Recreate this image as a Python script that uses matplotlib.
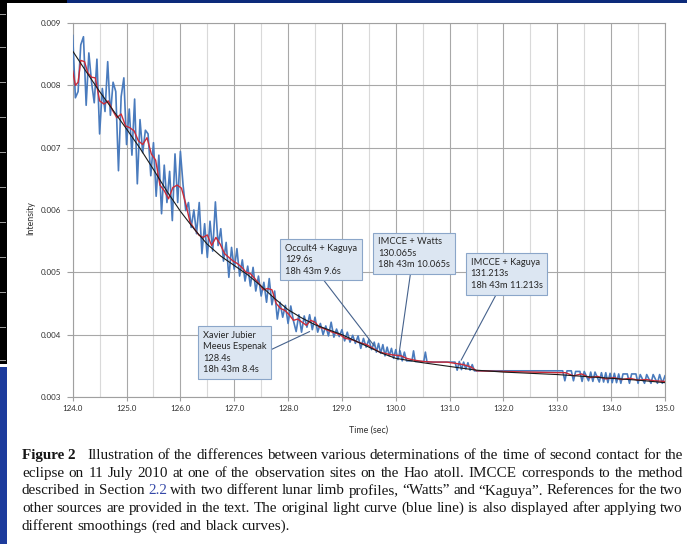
"""
Light curve around second contact (Hao atoll, 11 July 2010) with the
contact times given by the different methods, plus the figure caption.
"""

import matplotlib
matplotlib.use("Agg")
import matplotlib.pyplot as plt
import numpy as np
from matplotlib.patches import Rectangle

W, H = 687, 544

# Raw light curve, dense part: one sample every BLUE_STEP seconds from BLUE_START
BLUE_START = 124.0
BLUE_STEP = 0.05
blue_dense = [
    0.00880, 0.00780, 0.00790, 0.00865, 0.00878, 0.00768, 0.00852, 0.00805, 0.00772, 0.00842,
    0.00722, 0.00795, 0.00758, 0.00838, 0.00752, 0.00805, 0.00790, 0.00663, 0.00782, 0.00812,
    0.00705, 0.00762, 0.00688, 0.00778, 0.00642, 0.00745, 0.00692, 0.00728, 0.00722, 0.00655,
    0.00708, 0.00622, 0.00688, 0.00594, 0.00672, 0.00612, 0.00662, 0.00583, 0.00690, 0.00612,
    0.00694, 0.00640, 0.00599, 0.00612, 0.00572, 0.00600, 0.00562, 0.00612, 0.00530, 0.00578,
    0.00524, 0.00582, 0.00534, 0.00613, 0.00543, 0.00570, 0.00518, 0.00548, 0.00492, 0.00540,
    0.00505, 0.00538, 0.00494, 0.00520, 0.00486, 0.00510, 0.00478, 0.00508, 0.00470, 0.00494,
    0.00462, 0.00484, 0.00452, 0.00490, 0.00448, 0.00470, 0.00425, 0.00452, 0.00428, 0.00447,
    0.00418, 0.00446, 0.00422, 0.00405, 0.00432, 0.00404, 0.00430, 0.00412, 0.00432, 0.00408,
    0.00428, 0.00404, 0.00418, 0.00400, 0.00414, 0.00398, 0.00420, 0.00396, 0.00409, 0.00397,
    0.00408, 0.00390, 0.00404, 0.00388, 0.00399, 0.00386, 0.00398, 0.00378, 0.00394, 0.00380,
    0.00392, 0.00376, 0.00388,
]

# Raw light curve after 129.6 s (quantised, mostly flat)
blue_tail_t = [
    129.64, 129.68, 129.72, 129.76, 129.80, 129.84, 129.88, 129.92, 129.96, 130.00,
    130.04, 130.08, 130.12, 130.16, 130.20, 130.30, 130.33, 130.36, 130.52, 130.55,
    130.58, 131.10, 131.14, 131.18, 131.22, 131.26, 131.30, 131.34, 131.38, 131.42,
    131.46, 131.50, 133.10, 133.14, 133.18, 133.26, 133.30, 133.34, 133.42, 133.46,
    133.50, 133.58, 133.62, 133.66, 133.70, 133.78, 133.82, 133.86, 133.90, 133.94,
    133.98, 134.02, 134.06, 134.10, 134.14, 134.18, 134.22, 134.30, 134.34, 134.38,
    134.46, 134.50, 134.54, 134.62, 134.66, 134.74, 134.78, 134.86, 134.90, 134.95,
    135.00,
]
blue_tail_i = [
    0.00372, 0.00386, 0.00370, 0.00384, 0.00366, 0.00380, 0.00366, 0.00378, 0.00362, 0.00376,
    0.00360, 0.00374, 0.00358, 0.00372, 0.00358, 0.00358, 0.00374, 0.00357, 0.00357, 0.00372,
    0.00356, 0.00356, 0.00343, 0.00357, 0.00344, 0.00356, 0.00345, 0.00355, 0.00343, 0.00352,
    0.00342, 0.00342, 0.00342, 0.00326, 0.00342, 0.00342, 0.00326, 0.00341, 0.00341, 0.00325,
    0.00341, 0.00326, 0.00340, 0.00325, 0.00340, 0.00324, 0.00339, 0.00324, 0.00339, 0.00323,
    0.00338, 0.00323, 0.00338, 0.00323, 0.00337, 0.00322, 0.00337, 0.00337, 0.00322, 0.00337,
    0.00337, 0.00322, 0.00336, 0.00322, 0.00336, 0.00322, 0.00336, 0.00322, 0.00336, 0.00322,
    0.00334,
]

# First smoothing (red)
red_t = [
    124.00, 124.05, 124.10, 124.15, 124.22, 124.28, 124.35, 124.42, 124.50, 124.58,
    124.66, 124.74, 124.82, 124.90, 124.98, 125.06, 125.14, 125.22, 125.30, 125.38,
    125.46, 125.54, 125.62, 125.70, 125.78, 125.86, 125.94, 126.02, 126.10, 126.18,
    126.26, 126.34, 126.42, 126.50, 126.58, 126.66, 126.74, 126.82, 126.90, 126.98,
    127.06, 127.14, 127.22, 127.30, 127.38, 127.46, 127.54, 127.62, 127.70, 127.78,
    127.86, 127.94, 128.02, 128.10, 128.18, 128.26, 128.34, 128.42, 128.50, 128.58,
    128.66, 128.74, 128.82, 128.90, 128.98, 129.06, 129.14, 129.22, 129.30, 129.38,
    129.46, 129.54, 129.62, 129.70, 129.80, 129.90, 130.00, 130.10, 130.20, 130.35,
    130.50, 130.70, 130.95, 131.10, 131.25, 131.40, 131.50, 132.00, 132.50, 133.00,
    133.15, 133.30, 133.45, 133.60, 133.75, 133.90, 134.05, 134.20, 134.35, 134.50,
    134.65, 134.80, 135.00,
]
red_i = [
    0.00823, 0.00800, 0.00805, 0.00840, 0.00838, 0.00820, 0.00813, 0.00812, 0.00775, 0.00770,
    0.00775, 0.00760, 0.00748, 0.00754, 0.00735, 0.00732, 0.00727, 0.00711, 0.00705, 0.00716,
    0.00690, 0.00680, 0.00640, 0.00631, 0.00618, 0.00636, 0.00640, 0.00635, 0.00610, 0.00580,
    0.00570, 0.00560, 0.00556, 0.00560, 0.00543, 0.00556, 0.00545, 0.00530, 0.00524, 0.00518,
    0.00514, 0.00508, 0.00500, 0.00498, 0.00490, 0.00482, 0.00472, 0.00474, 0.00472, 0.00450,
    0.00442, 0.00439, 0.00432, 0.00423, 0.00425, 0.00420, 0.00415, 0.00423, 0.00420, 0.00412,
    0.00410, 0.00407, 0.00404, 0.00402, 0.00399, 0.00394, 0.00393, 0.00391, 0.00388, 0.00386,
    0.00384, 0.00380, 0.00376, 0.00372, 0.00370, 0.00368, 0.00367, 0.00366, 0.00362, 0.00359,
    0.00357, 0.00356, 0.00356, 0.00354, 0.00352, 0.00348, 0.00342, 0.00341, 0.00340, 0.00339,
    0.00339, 0.00334, 0.00337, 0.00331, 0.00333, 0.00329, 0.00331, 0.00328, 0.00330, 0.00327,
    0.00328, 0.00326, 0.00325,
]

# Second smoothing (black)
black_t = [
    124.00, 124.25, 124.50, 124.75, 125.00, 125.25, 125.50, 125.75, 126.00, 126.25,
    126.50, 126.75, 127.00, 127.25, 127.50, 127.75, 128.00, 128.25, 128.50, 128.75,
    129.00, 129.25, 129.50, 129.75, 130.00, 130.50, 131.00, 131.50, 132.00, 132.50,
    133.00, 133.50, 134.00, 134.50, 135.00,
]
black_i = [
    0.00855, 0.00822, 0.00790, 0.00760, 0.00730, 0.00699, 0.00665, 0.00630, 0.00598, 0.00570,
    0.00545, 0.00526, 0.00511, 0.00496, 0.00478, 0.00458, 0.00440, 0.00427, 0.00416, 0.00408,
    0.00400, 0.00390, 0.00380, 0.00370, 0.00362, 0.00355, 0.00349, 0.00343, 0.00340, 0.00338,
    0.00336, 0.00333, 0.00330, 0.00327, 0.00323,
]

# Contact times from the different methods
contact_labels = [
    "Xavier Jubier\nMeeus Espenak\n128.4s\n18h 43m 8.4s",
    "Occult4 + Kaguya\n129.6s\n18h 43m 9.6s",
    "IMCCE + Watts\n130.065s\n18h 43m 10.065s",
    "IMCCE + Kaguya\n131.213s\n18h 43m 11.213s",
]
contact_t = [128.4, 129.6, 130.065, 131.213]
contact_i = [0.00405, 0.00382, 0.00372, 0.00359]

x_ticks = [124.0, 125.0, 126.0, 127.0, 128.0, 129.0, 130.0, 131.0, 132.0, 133.0, 134.0, 135.0]
y_ticks = [0.003, 0.004, 0.005, 0.006, 0.007, 0.008, 0.009]

caption_lines = [
    "Illustration of the differences between various determinations of the time of second contact for the",
    "eclipse on 11 July 2010 at one of the observation sites on the Hao atoll. IMCCE corresponds to the method",
    "described in Section 2.2 with two different lunar limb profiles, \u201cWatts\u201d and \u201cKaguya\u201d. References for the two",
    "other sources are provided in the text. The original light curve (blue line) is also displayed after applying two",
    "different smoothings (red and black curves).",
]

TICK_FONT = "Lato"
SERIF = "Liberation Serif"


def fx(x):
    return x / W


def fy(y):
    return 1 - y / H


def draw_caption(fig):
    renderer = fig.canvas.get_renderer()
    left, right = 22, 683
    baselines = [459, 477, 494.5, 512, 530]
    size = 10.9
    for n, (line, base) in enumerate(zip(caption_lines, baselines)):
        words = line.split(" ")
        tokens = [(w, "normal", "#161616") for w in words]
        if n == 0:
            tokens.insert(0, ("Figure 2", "bold", "#161616"))
        artists = []
        for word, weight, color in tokens:
            if word == "2.2":
                color = "#3548a8"
            t = fig.text(0, fy(base), word, fontsize=size, family=SERIF,
                         weight=weight, color=color, va="baseline", ha="left")
            artists.append(t)
        widths = [a.get_window_extent(renderer).width for a in artists]
        extra = [0.0] * len(artists)
        if n == 0:
            extra[0] = 8.0
        justify = n < len(caption_lines) - 1
        if justify:
            gap = (right - left - sum(widths) - sum(extra)) / (len(artists) - 1)
        else:
            gap = size * 100 / 72 * 0.25
        x = left
        for a, w, e in zip(artists, widths, extra):
            a.set_x(fx(x))
            x += w + e + gap


def main() -> None:
    fig = plt.figure(figsize=(W / 100, H / 100), dpi=100)
    fig.patch.set_facecolor("white")

    # -----------------------------------------------------------------------
    # Slide frame: dark strip on the left, navy bar on top
    # -----------------------------------------------------------------------
    fig.add_artist(Rectangle((0, fy(364)), fx(7), 364 / H, transform=fig.transFigure,
                             fc="black", ec="none"))
    for y in [14, 47, 82, 117, 152, 187, 222, 257, 292, 327, 360]:
        fig.add_artist(Rectangle((0, fy(y + 1)), fx(6), 1 / H, transform=fig.transFigure,
                                 fc="#9a9a9a", ec="none"))
    fig.add_artist(Rectangle((0, 0), fx(7), 1 - 367 / H, transform=fig.transFigure,
                             fc="#1d3b9c", ec="none"))
    fig.add_artist(Rectangle((0, fy(3)), fx(67), 3 / H, transform=fig.transFigure,
                             fc="black", ec="none"))
    fig.add_artist(Rectangle((fx(67), fy(3)), 1 - fx(67), 3 / H, transform=fig.transFigure,
                             fc="#0c2a7a", ec="none"))

    # -----------------------------------------------------------------------
    # Light curve
    # -----------------------------------------------------------------------
    ax = fig.add_axes([fx(72.7), fy(397), fx(665 - 72.7), (397 - 23) / H])

    blue_t = BLUE_START + BLUE_STEP * np.arange(len(blue_dense))
    blue_t = np.concatenate([blue_t, blue_tail_t])
    blue_i = np.concatenate([blue_dense, blue_tail_i])

    ax.plot(blue_t, blue_i, color="#4a7bbd", lw=1.2, zorder=3)
    ax.plot(red_t, red_i, color="#cc2b38", lw=1.0, zorder=4)
    ax.plot(black_t, black_i, color="#1a1a1a", lw=0.8, zorder=5)

    ax.set_xlim(124, 135)
    ax.set_ylim(0.003, 0.009)
    ax.set_xticks(x_ticks)
    ax.set_xticklabels([f"{v:.1f}" for v in x_ticks])
    ax.set_xticks([v + 0.5 for v in x_ticks[:-1]], minor=True)
    ax.set_yticks(y_ticks)
    ax.set_yticklabels([f"{v:.3f}" for v in y_ticks])

    ax.grid(which="major", color="#a8a8a8", lw=0.8, zorder=0)
    ax.grid(which="minor", axis="x", color="#d9d9d9", lw=0.8, zorder=0)
    ax.set_axisbelow(True)
    for side in ["top", "right", "left", "bottom"]:
        ax.spines[side].set_color("#a0a0a0")
        ax.spines[side].set_linewidth(0.8)
    ax.tick_params(axis="y", length=4, color="#a0a0a0", pad=4, labelsize=5.8,
                   labelcolor="#303030")
    ax.tick_params(axis="x", length=3, color="#a0a0a0", pad=3, labelsize=5.8,
                   labelcolor="#303030")
    ax.tick_params(which="minor", length=0)
    for lab in ax.get_xticklabels() + ax.get_yticklabels():
        lab.set_family(TICK_FONT)

    fig.text(fx(31), fy(218), "Intensity", rotation=90, ha="center", va="center",
             fontsize=6.4, family=TICK_FONT, color="#303030")
    fig.text(fx(369), fy(430), "Time (sec)", ha="center", va="center",
             fontsize=6.4, family=TICK_FONT, color="#303030")

    # -----------------------------------------------------------------------
    # Contact-time call-outs
    # -----------------------------------------------------------------------
    text_pos = [(126.42, 0.00406), (127.94, 0.00546), (129.67, 0.00556), (131.39, 0.00523)]
    rel = [(1.0, 0.52), (0.49, 0.0), (0.46, 0.0), (0.39, 0.0)]
    for label, t, i, pos, rp in zip(contact_labels, contact_t, contact_i, text_pos, rel):
        ax.annotate(label, xy=(t, i), xytext=pos, textcoords="data",
                    ha="left", va="top", fontsize=6.7, family=TICK_FONT,
                    color="#262626", linespacing=1.35, zorder=6,
                    bbox=dict(boxstyle="square,pad=0.5", fc="#dce6f2",
                              ec="#8ba6c9", lw=0.8),
                    arrowprops=dict(arrowstyle="-", color="#46628c", lw=0.8,
                                    relpos=rp, shrinkA=0, shrinkB=0))

    # -----------------------------------------------------------------------
    # Caption
    # -----------------------------------------------------------------------
    draw_caption(fig)

    fig.savefig("out.png", dpi=100)


if __name__ == "__main__":
    main()
